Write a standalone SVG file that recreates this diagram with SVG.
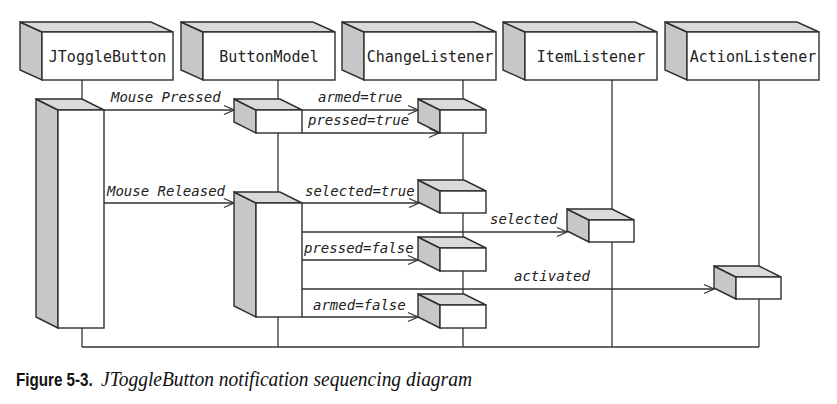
<svg xmlns="http://www.w3.org/2000/svg" width="837" height="404" viewBox="0 0 837 404">
<style>
.bg{fill:#ffffff}
.front{fill:#ffffff;stroke:#2e2e2e;stroke-width:1.4;stroke-linejoin:miter}
.side{fill:#c5c7c8;stroke:#2e2e2e;stroke-width:1.4;stroke-linejoin:miter}
.top{fill:#d9dadc;stroke:#2e2e2e;stroke-width:1.4;stroke-linejoin:miter}
.life{fill:none;stroke:#333;stroke-width:1.3}
.msg{fill:none;stroke:#333;stroke-width:1.3;marker-end:url(#arr)}
.hdr{font-family:"DejaVu Sans Mono","Liberation Mono",monospace;font-size:15px;fill:#222;text-anchor:middle}
.lbl{font-family:"DejaVu Sans Mono","Liberation Mono",monospace;font-size:14px;font-style:italic;fill:#222}
.capb{font-family:"Liberation Sans",Arial,sans-serif;font-weight:bold;font-size:19px;fill:#111}
.capi{font-family:"Liberation Serif","Times New Roman",serif;font-style:italic;font-size:20.5px;fill:#111}
</style>
<defs>
<marker id="arr" markerUnits="userSpaceOnUse" markerWidth="12" markerHeight="10" refX="10" refY="4.5" orient="auto" overflow="visible">
<path d="M0,0 L10,4.5 L0,9" fill="none" stroke="#333" stroke-width="1.3"/>
</marker>
</defs>
<rect class="bg" x="0" y="0" width="837" height="404"/>

<g id="connectors">
<line class="life" x1="82" y1="80" x2="82" y2="347"/>
<line class="life" x1="278" y1="80" x2="278" y2="347"/>
<line class="life" x1="463" y1="80" x2="463" y2="347"/>
<line class="life" x1="612" y1="80" x2="612" y2="347"/>
<line class="life" x1="759" y1="80" x2="759" y2="347"/>
<line class="life" x1="82" y1="347" x2="759" y2="347"/>
<line class="msg" x1="104" y1="110" x2="234" y2="110"/>
<line class="msg" x1="302" y1="110" x2="418" y2="110"/>
<line class="msg" x1="302" y1="133" x2="439" y2="133"/>
<line class="msg" x1="104" y1="203" x2="234" y2="203"/>
<line class="msg" x1="302" y1="203" x2="419" y2="203"/>
<line class="msg" x1="302" y1="232" x2="567" y2="232"/>
<line class="msg" x1="302" y1="260" x2="418" y2="260"/>
<line class="msg" x1="302" y1="289" x2="714" y2="289"/>
<line class="msg" x1="302" y1="317" x2="418" y2="317"/>
<text class="lbl" x="111" y="102">Mouse Pressed</text>
<text class="lbl" x="318" y="102">armed=true</text>
<text class="lbl" x="308" y="125">pressed=true</text>
<text class="lbl" x="107" y="196">Mouse Released</text>
<text class="lbl" x="305" y="196">selected=true</text>
<text class="lbl" x="490" y="224">selected</text>
<text class="lbl" x="304" y="253">pressed=false</text>
<text class="lbl" x="514" y="281">activated</text>
<text class="lbl" x="313" y="310">armed=false</text>
</g>

<g id="JToggleButton">
<polygon class="side" points="20,22 42,32 42,80 20,70"/>
<polygon class="top" points="20,22 151,22 173,32 42,32"/>
<rect class="front" x="42" y="32" width="131" height="48"/>
<text class="hdr" x="107.5" y="62">JToggleButton</text>
</g>
<g id="ButtonModel">
<polygon class="side" points="181,22 203,32 203,80 181,70"/>
<polygon class="top" points="181,22 313,22 335,32 203,32"/>
<rect class="front" x="203" y="32" width="132" height="48"/>
<text class="hdr" x="269" y="62">ButtonModel</text>
</g>
<g id="ChangeListener">
<polygon class="side" points="342,22 364,32 364,80 342,70"/>
<polygon class="top" points="342,22 474,22 496,32 364,32"/>
<rect class="front" x="364" y="32" width="132" height="48"/>
<text class="hdr" x="430" y="62">ChangeListener</text>
</g>
<g id="ItemListener">
<polygon class="side" points="503,22 525,32 525,80 503,70"/>
<polygon class="top" points="503,22 635,22 657,32 525,32"/>
<rect class="front" x="525" y="32" width="132" height="48"/>
<text class="hdr" x="591" y="62">ItemListener</text>
</g>
<g id="ActionListener">
<polygon class="side" points="665,22 687,32 687,80 665,70"/>
<polygon class="top" points="665,22 797,22 819,32 687,32"/>
<rect class="front" x="687" y="32" width="132" height="48"/>
<text class="hdr" x="753" y="62">ActionListener</text>
</g>

<g id="JToggleButton-activation">
<polygon class="side" points="36,99 58,110 58,328 36,317"/>
<polygon class="top" points="36,99 82,99 104,110 58,110"/>
<rect class="front" x="58" y="110" width="46" height="218"/>
</g>
<g id="ButtonModel-activation-1">
<polygon class="side" points="234,99 256,110 256,133 234,122"/>
<polygon class="top" points="234,99 280,99 302,110 256,110"/>
<rect class="front" x="256" y="110" width="46" height="23"/>
</g>
<g id="ButtonModel-activation-2">
<polygon class="side" points="234,192 256,203 256,317 234,306"/>
<polygon class="top" points="234,192 280,192 302,203 256,203"/>
<rect class="front" x="256" y="203" width="46" height="114"/>
</g>
<g id="ChangeListener-activation-1">
<polygon class="side" points="418,99 440,110 440,133 418,122"/>
<polygon class="top" points="418,99 464,99 486,110 440,110"/>
<rect class="front" x="440" y="110" width="46" height="23"/>
</g>
<g id="ChangeListener-activation-2">
<polygon class="side" points="418,180 440,191 440,213 418,202"/>
<polygon class="top" points="418,180 464,180 486,191 440,191"/>
<rect class="front" x="440" y="191" width="46" height="22"/>
</g>
<g id="ChangeListener-activation-3">
<polygon class="side" points="418,237 440,248 440,271 418,260"/>
<polygon class="top" points="418,237 464,237 486,248 440,248"/>
<rect class="front" x="440" y="248" width="46" height="23"/>
</g>
<g id="ChangeListener-activation-4">
<polygon class="side" points="418,294 440,305 440,328 418,317"/>
<polygon class="top" points="418,294 464,294 486,305 440,305"/>
<rect class="front" x="440" y="305" width="46" height="23"/>
</g>
<g id="ItemListener-activation">
<polygon class="side" points="567,209 589,220 589,242 567,231"/>
<polygon class="top" points="567,209 612,209 634,220 589,220"/>
<rect class="front" x="589" y="220" width="45" height="22"/>
</g>
<g id="ActionListener-activation">
<polygon class="side" points="714,266 736,277 736,299 714,288"/>
<polygon class="top" points="714,266 759,266 781,277 736,277"/>
<rect class="front" x="736" y="277" width="45" height="22"/>
</g>

<g id="caption">
<text class="capb" transform="translate(16,386) scale(0.8,1)" x="0" y="0">Figure 5-3.</text>
<text class="capi" x="101" y="386" textLength="371" lengthAdjust="spacingAndGlyphs">JToggleButton notification sequencing diagram</text>
</g>
</svg>
